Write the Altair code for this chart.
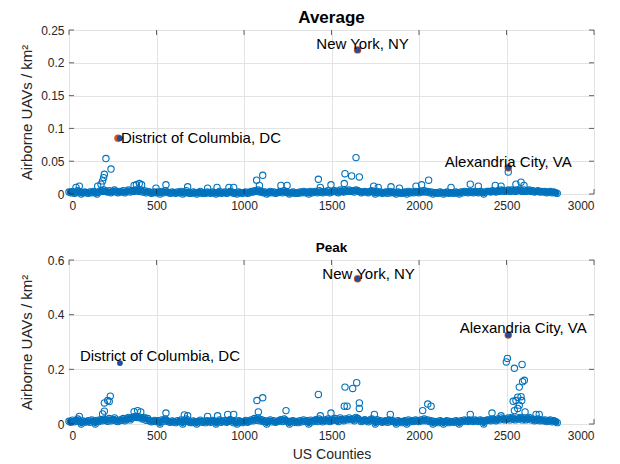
import altair as alt
import pandas as pd

# ---------------- data ----------------
# band of low values, one value every 10 counties (thousandths of UAVs/km^2)
avg_band = [
    3, 2, 4, 1, 2, 5, 3, 0, 2, 3,
    2, 1, 3, 2, 4, 2, 0, 3, 5, 4,
    6, 4, 3, 5, 2, 4, 6, 3, 2, 4,
    3, 5, 2, 4, 6, 3, 5, 4, 6, 5,
    4, 6, 3, 5, 2, 4, 3, 1, 2, 3,
    2, 3, 0, 4, 2, 5, 3, 2, 1, 3,
    2, 1, 3, 2, 4, 0, 2, 5, 2, 1,
    1, 3, 2, 0, 2, 4, 1, 2, 1, 3,
    2, 1, 3, 2, 0, 2, 4, 1, 2, 3,
    1, 2, 4, 3, 1, 2, 0, 3, 2, 1,
    2, 3, 1, 2, 4, 3, 5, 4, 6, 3,
    4, 2, 3, 0, 2, 4, 2, 3, 1, 2,
    3, 4, 2, 5, 3, 2, 0, 2, 3, 1,
    2, 1, 3, 2, 4, 2, 3, 0, 4, 2,
    3, 4, 2, 5, 3, 2, 4, 3, 5, 2,
    3, 4, 5, 3, 2, 6, 4, 3, 5, 4,
    6, 4, 5, 3, 6, 5, 4, 2, 3, 4,
    3, 2, 4, 5, 3, 0, 4, 2, 3, 1,
    2, 3, 1, 4, 2, 3, 2, 0, 3, 2,
    1, 2, 3, 0, 4, 2, 3, 2, 4, 3,
    2, 4, 3, 5, 3, 4, 2, 3, 0, 2,
    2, 1, 3, 2, 0, 2, 3, 1, 2, 2,
    1, 3, 2, 0, 3, 2, 4, 3, 2, 4,
    3, 2, 4, 3, 2, 4, 3, 0, 3, 4,
    4, 3, 5, 4, 3, 5, 4, 6, 5, 4,
    5, 6, 4, 6, 5, 4, 6, 5, 6, 4,
    6, 4, 5, 6, 4, 5, 3, 4, 5, 3,
    4, 3, 4, 2, 3, 4, 2, 3, 2, 1,
]
peak_band = [
    10, 6, 14, 8, 12, 18, 9, 0, 11, 7,
    8, 12, 6, 15, 10, 0, 13, 9, 16, 12,
    18, 14, 10, 20, 12, 16, 22, 11, 9, 15,
    14, 20, 12, 18, 24, 15, 22, 26, 28, 24,
    26, 22, 18, 24, 14, 20, 12, 8, 10, 13,
    9, 12, 0, 15, 10, 18, 12, 8, 6, 11,
    8, 5, 12, 9, 15, 0, 10, 18, 9, 6,
    5, 11, 8, 0, 9, 14, 6, 10, 5, 12,
    9, 6, 13, 10, 0, 8, 15, 6, 10, 12,
    6, 9, 16, 13, 5, 10, 0, 12, 9, 5,
    8, 13, 6, 10, 15, 12, 20, 14, 22, 12,
    16, 9, 12, 0, 10, 15, 8, 12, 6, 9,
    12, 16, 9, 18, 13, 8, 0, 10, 12, 6,
    9, 5, 12, 8, 15, 9, 12, 0, 14, 8,
    12, 16, 9, 18, 13, 8, 15, 12, 18, 9,
    12, 15, 20, 13, 9, 22, 16, 12, 18, 15,
    22, 16, 18, 12, 24, 20, 15, 9, 12, 16,
    12, 8, 15, 18, 12, 0, 16, 9, 12, 6,
    9, 12, 6, 15, 9, 12, 8, 0, 12, 9,
    5, 9, 12, 0, 15, 8, 12, 9, 15, 12,
    9, 15, 12, 18, 12, 15, 9, 12, 0, 9,
    8, 5, 12, 9, 0, 9, 12, 5, 9, 8,
    6, 12, 9, 0, 12, 9, 15, 12, 9, 15,
    12, 9, 15, 12, 9, 15, 12, 0, 12, 15,
    15, 12, 18, 15, 12, 18, 15, 22, 18, 15,
    18, 22, 15, 24, 18, 15, 22, 18, 24, 15,
    22, 15, 18, 24, 15, 18, 12, 15, 18, 12,
    15, 12, 15, 9, 12, 15, 8, 12, 9, 5,
]
band_step = 10

avg_out_x = [40, 59, 164, 183, 192, 198, 202, 211, 240, 372, 385, 402, 415, 497, 554,
             678, 792, 846, 914, 941, 1072, 1088, 1107, 1211, 1246, 1425, 1436, 1497,
             1573, 1577, 1615, 1640, 1659, 1741, 1767, 1840, 1888, 1983, 2015, 2055,
             2183, 2293, 2339, 2436, 2469, 2510, 2554, 2583, 2600]
avg_out_y = [0.010, 0.012, 0.012, 0.015, 0.020, 0.025, 0.030, 0.054, 0.038, 0.013, 0.014,
             0.016, 0.014, 0.009, 0.014, 0.011, 0.009, 0.010, 0.010, 0.010, 0.021, 0.013,
             0.0285, 0.013, 0.013, 0.0225, 0.010, 0.014, 0.016, 0.031, 0.0275, 0.0555,
             0.026, 0.012, 0.010, 0.011, 0.009, 0.012, 0.014, 0.021, 0.010, 0.015, 0.012,
             0.013, 0.012, 0.0335, 0.015, 0.018, 0.013]

peak_out_x = [59, 192, 202, 202, 221, 230, 236, 372, 392, 410, 554, 659, 678, 792, 849,
              907, 941, 1074, 1082, 1107, 1240, 1425, 1436, 1497, 1573, 1577, 1589, 1621,
              1644, 1659, 1659, 1745, 1836, 2021, 2050, 2069, 2293, 2417, 2469, 2499, 2505,
              2538, 2545, 2545, 2554, 2564, 2564, 2573, 2573, 2583, 2587, 2589, 2592, 2602,
              2606, 2669, 2687]
peak_out_y = [0.028, 0.037, 0.047, 0.077, 0.086, 0.082, 0.102, 0.045, 0.049, 0.044, 0.040,
              0.033, 0.030, 0.028, 0.030, 0.035, 0.035, 0.086, 0.044, 0.096, 0.049, 0.108,
              0.030, 0.040, 0.065, 0.135, 0.065, 0.130, 0.151, 0.077, 0.057, 0.035, 0.035,
              0.049, 0.073, 0.065, 0.035, 0.040, 0.030, 0.227, 0.240, 0.083, 0.204, 0.049,
              0.086, 0.098, 0.057, 0.135, 0.069, 0.100, 0.086, 0.218, 0.155, 0.160, 0.044,
              0.035, 0.035]

hl_names = ["District of Columbia, DC", "New York, NY", "Alexandria City, VA"]
hl_x = [291, 1649, 2510]
hl_avg = [0.085, 0.2197, 0.040]
hl_peak = [0.223, 0.531, 0.326]
# orange markers (drawn under the highlighted points)
avg_orange_x = [280, 1649, 2510]
avg_orange_y = [0.085, 0.2197, 0.040]
peak_orange_x = [1649, 2510]
peak_orange_y = [0.531, 0.326]

x_ticks = [0, 500, 1000, 1500, 2000, 2500, 3000]
avg_ticks = [0, 0.05, 0.1, 0.15, 0.2, 0.25]
peak_ticks = [0, 0.2, 0.4, 0.6]

# ---------------- style ----------------
BLUE = "#0072BD"
DARK = "#1f4e9e"
ORANGE = "#D95319"
AX = "#262626"
FONT = "Liberation Sans"
W, H = 525, 164


def panel(band, out_x, out_y, hl_y, or_x, or_y, yticks, title, tsize, toff, labels, xtitle):
    band_df = pd.DataFrame({"x": [i * band_step for i in range(len(band))],
                            "y": [v / 1000 for v in band]})
    out_df = pd.DataFrame({"x": out_x, "y": out_y})
    hl = pd.DataFrame({"x": hl_x, "y": hl_y, "name": hl_names})
    orng = pd.DataFrame({"x": or_x, "y": or_y})
    xt = pd.DataFrame({"x": x_ticks})
    yt = pd.DataFrame({"y": yticks})

    xaxis_kw = dict(values=x_ticks, format="d", grid=True, gridColor="#e3e3e3",
                    domain=False, ticks=False, tickSize=0, labelFontSize=12,
                    labelColor=AX, labelFont=FONT, labelPadding=6)
    if xtitle:
        xaxis_kw.update(title=xtitle, titleFontSize=14, titleFont=FONT,
                        titleColor=AX, titleFontWeight="normal", titlePadding=6)
    else:
        xaxis_kw.update(title=None)
    X = alt.X("x:Q", scale=alt.Scale(domain=[0, 3000], nice=False),
              axis=alt.Axis(**xaxis_kw))
    Y = alt.Y("y:Q", scale=alt.Scale(domain=[yticks[0], yticks[-1]], nice=False),
              axis=alt.Axis(values=yticks, format="~g", grid=True, gridColor="#e3e3e3",
                            domain=False, ticks=False, tickSize=0, labelFontSize=12,
                            labelColor=AX, labelFont=FONT, labelPadding=5,
                            title="Airborne UAVs / km²", titleFontSize=15, titleFont=FONT,
                            titleColor=AX, titleFontWeight="normal",
                            titleX=-43, titleY=H / 2, titleAlign="center",
                            titleBaseline="middle", titleAngle=270))

    band_fill = alt.Chart(band_df).mark_point(shape="circle", filled=True, size=22,
                                              color=BLUE, opacity=1).encode(x=X, y=Y)
    band_rings = alt.Chart(band_df).mark_point(shape="circle", filled=False, size=40,
                                               color=BLUE, strokeWidth=1.1,
                                               opacity=1).encode(x=X, y=Y)
    rings = alt.Chart(out_df).mark_point(shape="circle", filled=False, size=40,
                                         color=BLUE, strokeWidth=1.1, opacity=1).encode(x=X, y=Y)
    oranges = alt.Chart(orng).mark_point(shape="circle", filled=True, size=56,
                                         color=ORANGE, opacity=1).encode(x=X, y=Y)
    blues = alt.Chart(hl).mark_point(shape="circle", filled=True, size=34,
                                     color=DARK, opacity=1).encode(x=X, y=Y)
    layers = [band_fill, band_rings, rings, oranges, blues]
    for name, align, dx, dy in labels:
        layers.append(
            alt.Chart(hl).transform_filter(alt.datum.name == name)
            .mark_text(align=align, baseline="middle", dx=dx, dy=dy, fontSize=15,
                       font=FONT, color="black")
            .encode(x=X, y=Y, text="name:N"))
    tk = dict(color=AX, thickness=1, size=5)
    layers += [
        alt.Chart(xt).mark_tick(orient="vertical", **tk).encode(x=X, y=alt.value(2.5)),
        alt.Chart(xt).mark_tick(orient="vertical", **tk).encode(x=X, y=alt.value(H - 2.5)),
        alt.Chart(yt).mark_tick(orient="horizontal", **tk).encode(y=Y, x=alt.value(2.5)),
        alt.Chart(yt).mark_tick(orient="horizontal", **tk).encode(y=Y, x=alt.value(W - 2.5)),
    ]
    return alt.layer(*layers).properties(
        width=W, height=H,
        title=alt.TitleParams(title, fontSize=tsize, fontWeight="bold", font=FONT,
                              color="black", offset=toff, anchor="middle"))


top = panel(avg_band, avg_out_x, avg_out_y, hl_avg, avg_orange_x, avg_orange_y,
            avg_ticks, "Average", 17, -3,
            [(hl_names[0], "left", 1, 0), (hl_names[1], "center", 5, -6),
             (hl_names[2], "center", 0, -6)], None)
bottom = panel(peak_band, peak_out_x, peak_out_y, hl_peak, peak_orange_x, peak_orange_y,
               peak_ticks, "Peak", 13.5, 0,
               [(hl_names[0], "left", -40, -7), (hl_names[1], "center", 11, -5),
                (hl_names[2], "center", 15, -7)], "US Counties")

chart = alt.vconcat(top, bottom, spacing=28).properties(
    padding={"left": 10, "top": 0, "right": 5, "bottom": 0}
).configure_view(stroke=AX, strokeWidth=1).configure(background="white")

chart.save("out.html", embed_options={"renderer": "svg", "actions": False})
